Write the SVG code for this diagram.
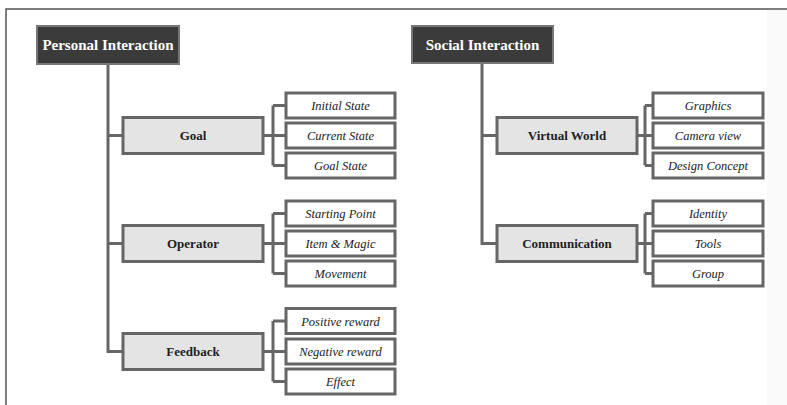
<svg xmlns="http://www.w3.org/2000/svg" width="787" height="405" viewBox="0 0 787 405">
<style>
.frame{fill:none;stroke:#555;stroke-width:1.5}
.conn{fill:none;stroke:#666;stroke-width:3}
.title rect{fill:#3b3b3b;stroke:#777;stroke-width:2}
.title text{fill:#fff;font-weight:bold;font-size:15px;text-anchor:middle;font-family:'Liberation Serif',serif}
.mid rect{fill:#e4e4e4;stroke:#666;stroke-width:3}
.mid text{fill:#222;font-weight:bold;font-size:13px;text-anchor:middle;font-family:'Liberation Serif',serif}
.leaf rect{fill:#fff;stroke:#666;stroke-width:3}
.leaf text{fill:#222;font-style:italic;font-size:12.5px;text-anchor:middle;font-family:'Liberation Serif',serif}
</style>
<rect width="787" height="405" fill="#fff"/>
<rect x="767" y="10" width="20" height="395" fill="#fafafa"/>
<path class="frame" d="M6,405 V9 H787"/>
<g id="connectors">
<path class="conn" d="M108,64 V351.5 H123 M108,135.5 H123 M108,243.5 H123"/>
<path class="conn" d="M263,135.5 H286 M273,105.5 V165.5 M273,105.5 H286 M273,165.5 H286"/>
<path class="conn" d="M263,243.5 H286 M273,213.5 V273.5 M273,213.5 H286 M273,273.5 H286"/>
<path class="conn" d="M263,351.5 H286 M273,321 V381.5 M273,321 H286 M273,381.5 H286"/>
<path class="conn" d="M482,63 V243.5 H497 M482,135.5 H497"/>
<path class="conn" d="M637,135.5 H653 M645,105.5 V165.5 M645,105.5 H653 M645,165.5 H653"/>
<path class="conn" d="M637,243.5 H653 M645,213.5 V273.5 M645,213.5 H653 M645,273.5 H653"/>
</g>
<g id="personal" class="title"><rect x="37" y="26" width="142" height="38"/><text x="108" y="50">Personal Interaction</text></g>
<g id="social" class="title"><rect x="412" y="26" width="141" height="37"/><text x="482.5" y="50">Social Interaction</text></g>
<g id="goal" class="mid"><rect x="123" y="117.5" width="140" height="36"/><text x="193" y="140">Goal</text></g>
<g id="operator" class="mid"><rect x="123" y="225.5" width="140" height="36"/><text x="193" y="248">Operator</text></g>
<g id="feedback" class="mid"><rect x="123" y="333.5" width="140" height="36"/><text x="193" y="356">Feedback</text></g>
<g id="virtual-world" class="mid"><rect x="497" y="117.5" width="140" height="36"/><text x="567" y="140">Virtual World</text></g>
<g id="communication" class="mid"><rect x="497" y="225.5" width="140" height="36"/><text x="567" y="248">Communication</text></g>
<g id="initial-state" class="leaf"><rect x="286" y="93" width="109" height="25"/><text x="340.5" y="110">Initial State</text></g>
<g id="current-state" class="leaf"><rect x="286" y="123" width="109" height="25"/><text x="340.5" y="140">Current State</text></g>
<g id="goal-state" class="leaf"><rect x="286" y="153" width="109" height="25"/><text x="340.5" y="170">Goal State</text></g>
<g id="starting-point" class="leaf"><rect x="286" y="201" width="109" height="25"/><text x="340.5" y="218">Starting Point</text></g>
<g id="item-magic" class="leaf"><rect x="286" y="231" width="109" height="25"/><text x="340.5" y="248">Item &amp; Magic</text></g>
<g id="movement" class="leaf"><rect x="286" y="261" width="109" height="25"/><text x="340.5" y="278">Movement</text></g>
<g id="positive-reward" class="leaf"><rect x="286" y="308.5" width="109" height="25"/><text x="340.5" y="325.5">Positive reward</text></g>
<g id="negative-reward" class="leaf"><rect x="286" y="339" width="109" height="25"/><text x="340.5" y="356">Negative reward</text></g>
<g id="effect" class="leaf"><rect x="286" y="369" width="109" height="25"/><text x="340.5" y="386">Effect</text></g>
<g id="graphics" class="leaf"><rect x="653" y="93" width="110" height="25"/><text x="708" y="110">Graphics</text></g>
<g id="camera-view" class="leaf"><rect x="653" y="123" width="110" height="25"/><text x="708" y="140">Camera view</text></g>
<g id="design-concept" class="leaf"><rect x="653" y="153" width="110" height="25"/><text x="708" y="170">Design Concept</text></g>
<g id="identity" class="leaf"><rect x="653" y="201" width="110" height="25"/><text x="708" y="218">Identity</text></g>
<g id="tools" class="leaf"><rect x="653" y="231" width="110" height="25"/><text x="708" y="248">Tools</text></g>
<g id="group" class="leaf"><rect x="653" y="261" width="110" height="25"/><text x="708" y="278">Group</text></g>
</svg>
